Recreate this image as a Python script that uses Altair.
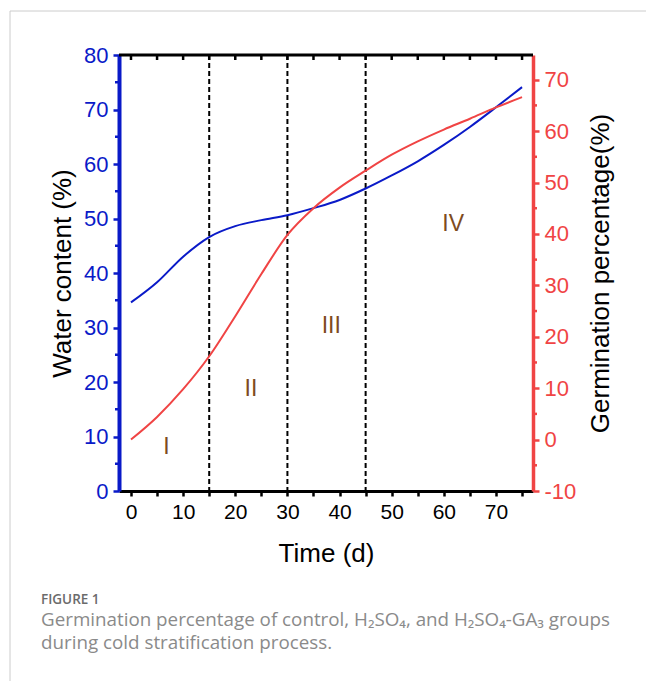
import altair as alt
import pandas as pd

# ---- data ----
days = [0, 5, 10, 15, 20, 25, 30, 35, 40, 45, 50, 55, 60, 65, 70, 75]
water = [34.6, 38.3, 43.0, 46.6, 48.6, 49.7, 50.6, 51.9, 53.4, 55.5, 57.9, 60.5, 63.5, 66.8, 70.4, 74.1]
germination = [0.0, 4.4, 9.8, 16.2, 24.0, 32.2, 39.8, 45.0, 49.0, 52.3, 55.4, 58.0, 60.3, 62.4, 64.6, 66.6]
boundaries = [15, 30, 45]
stage_labels = ["I", "II", "III", "IV"]
stage_day = [6.8, 23.0, 38.4, 61.8]
stage_level = [8.0, 18.8, 30.2, 49.0]
x_ticks = list(range(0, 80, 5))
left_major = list(range(0, 90, 10))
left_minor = list(range(5, 80, 10))
right_major = list(range(-10, 80, 10))
right_minor = list(range(-5, 75, 10))

caption_head = "FIGURE 1"
caption_1 = "Germination percentage of control, H\u2082SO\u2084, and H\u2082SO\u2084-GA\u2083 groups"
caption_2 = "during cold stratification process."

BLUE = "#0A1AC8"
RED = "#F04444"
BROWN = "#7E4B1E"
FONT = "Liberation Sans"

W, H = 414, 436
X_DOM = [-2.3, 77.1]
L_DOM = [0, 80]
R_DOM = [-10, 74.8]

curves = pd.DataFrame({"day": days, "water": water, "germ": germination})
xs = alt.Scale(domain=X_DOM, nice=False, zero=False)
x_axis = alt.Axis(values=x_ticks, labelExpr="datum.value % 10 == 0 ? datum.label : ''",
                  title="Time (d)", titleFontSize=26, titleFont=FONT, titleFontWeight="normal",
                  titleColor="black", titleX=W / 2, titleY=70, titleBaseline="alphabetic",
                  titleAlign="center",
                  labelFont=FONT, labelFontSize=21, labelColor="black", labelPadding=5,
                  domainColor="black", domainWidth=3, tickColor="black", tickWidth=2.5,
                  tickSize=5, grid=False, labelFlush=False, labelOverlap=False)


def X(field):
    return alt.X(field, scale=xs, axis=x_axis)


blue_line = alt.Chart(curves).mark_line(color=BLUE, strokeWidth=2, interpolate="monotone").encode(
    x=X("day:Q"),
    y=alt.Y("water:Q", scale=alt.Scale(domain=L_DOM, nice=False, zero=False),
            axis=alt.Axis(values=left_major, title="Water content (%)", titleFontSize=26,
                          titleFont=FONT, titleFontWeight="normal", titleColor="black",
                          titleAngle=270, titleX=-49, titleY=H / 2, titleBaseline="alphabetic",
                          titleAlign="center",
                          labelFont=FONT, labelFontSize=22, labelColor=BLUE, labelPadding=5,
                          domainColor=BLUE, domainWidth=4, tickColor=BLUE, tickWidth=2.5, tickSize=6,
                          grid=False, labelFlush=False, labelOverlap=False)),
)

red_line = alt.Chart(curves).mark_line(color=RED, strokeWidth=2, interpolate="monotone").encode(
    x=X("day:Q"),
    y=alt.Y("germ:Q", scale=alt.Scale(domain=R_DOM, nice=False, zero=False),
            axis=alt.Axis(orient="right", values=right_major, labelExpr="'' + datum.value",
                          title="Germination percentage(%)",
                          titleFontSize=26, titleFont=FONT, titleFontWeight="normal", titleColor="black",
                          titleAngle=270, titleX=75, titleY=H / 2, titleBaseline="alphabetic",
                          titleAlign="center",
                          labelFont=FONT, labelFontSize=22, labelColor=RED, labelPadding=5,
                          domainColor=RED, domainWidth=3.5, tickColor=RED, tickWidth=2.5, tickSize=6,
                          grid=False, labelFlush=False, labelOverlap=False)),
)

dashes = alt.Chart(pd.DataFrame({"b": boundaries})).mark_rule(
    color="black", strokeWidth=2, strokeDash=[5, 3]
).encode(x=X("b:Q"))

stages = alt.Chart(pd.DataFrame({"d": stage_day, "v": stage_level, "t": stage_labels})).mark_text(
    color=BROWN, fontSize=23, font=FONT, align="center", baseline="middle"
).encode(
    x=X("d:Q"),
    y=alt.Y("v:Q", scale=alt.Scale(domain=L_DOM, nice=False, zero=False), axis=None),
    text="t:N",
)

top_line = alt.Chart(pd.DataFrame({"a": [0]})).mark_rule(color="black", strokeWidth=3).encode(
    x=alt.value(0), x2=alt.value(W), y=alt.value(0)
)
top_ticks = alt.Chart(pd.DataFrame({"t": x_ticks})).mark_rule(color="black", strokeWidth=2.5).encode(
    x=X("t:Q"), y=alt.value(0), y2=alt.value(5)
)
left_ticks = alt.Chart(pd.DataFrame({"t": left_minor})).mark_rule(color=BLUE, strokeWidth=2.5).encode(
    y=alt.Y("t:Q", scale=alt.Scale(domain=L_DOM, nice=False, zero=False), axis=None),
    x=alt.value(-4), x2=alt.value(0)
)
right_ticks = alt.Chart(pd.DataFrame({"t": right_minor})).mark_rule(color=RED, strokeWidth=2.5).encode(
    y=alt.Y("t:Q", scale=alt.Scale(domain=R_DOM, nice=False, zero=False), axis=None),
    x=alt.value(W), x2=alt.value(W + 4)
)

border_v = alt.Chart(pd.DataFrame({"a": [0]})).mark_rule(color="#cccccc", strokeWidth=1).encode(
    x=alt.value(-109), y=alt.value(-44), y2=alt.value(626)
)
border_h = alt.Chart(pd.DataFrame({"a": [0]})).mark_rule(color="#cccccc", strokeWidth=1).encode(
    x=alt.value(-109), x2=alt.value(527), y=alt.value(-44)
)

cap0 = alt.Chart(pd.DataFrame({"a": [0]})).mark_text(
    text=caption_head, font="Open Sans", fontSize=13.5, fontWeight=600, color="#6b6b6b",
    align="left", baseline="alphabetic"
).encode(x=alt.value(-78), y=alt.value(549))
cap1 = alt.Chart(pd.DataFrame({"a": [0]})).mark_text(
    text=caption_1, font="Open Sans", fontSize=18.8, color="#8a8a8a", align="left", baseline="alphabetic"
).encode(x=alt.value(-78), y=alt.value(571))
cap2 = alt.Chart(pd.DataFrame({"a": [0]})).mark_text(
    text=caption_2, font="Open Sans", fontSize=18.8, color="#8a8a8a", align="left", baseline="alphabetic"
).encode(x=alt.value(-78), y=alt.value(594))

chart = alt.layer(
    border_v, border_h, dashes, top_ticks, top_line, left_ticks, right_ticks,
    blue_line, red_line, stages, cap0, cap1, cap2
).resolve_scale(y="independent").resolve_axis(y="independent").properties(
    width=W, height=H,
    autosize=alt.AutoSizeParams(type="none"),
    padding={"left": 119, "top": 55, "right": 113, "bottom": 190},
    background="white",
).configure_view(stroke=None)

chart.save("out.html", embed_options={"renderer": "svg", "actions": False})
